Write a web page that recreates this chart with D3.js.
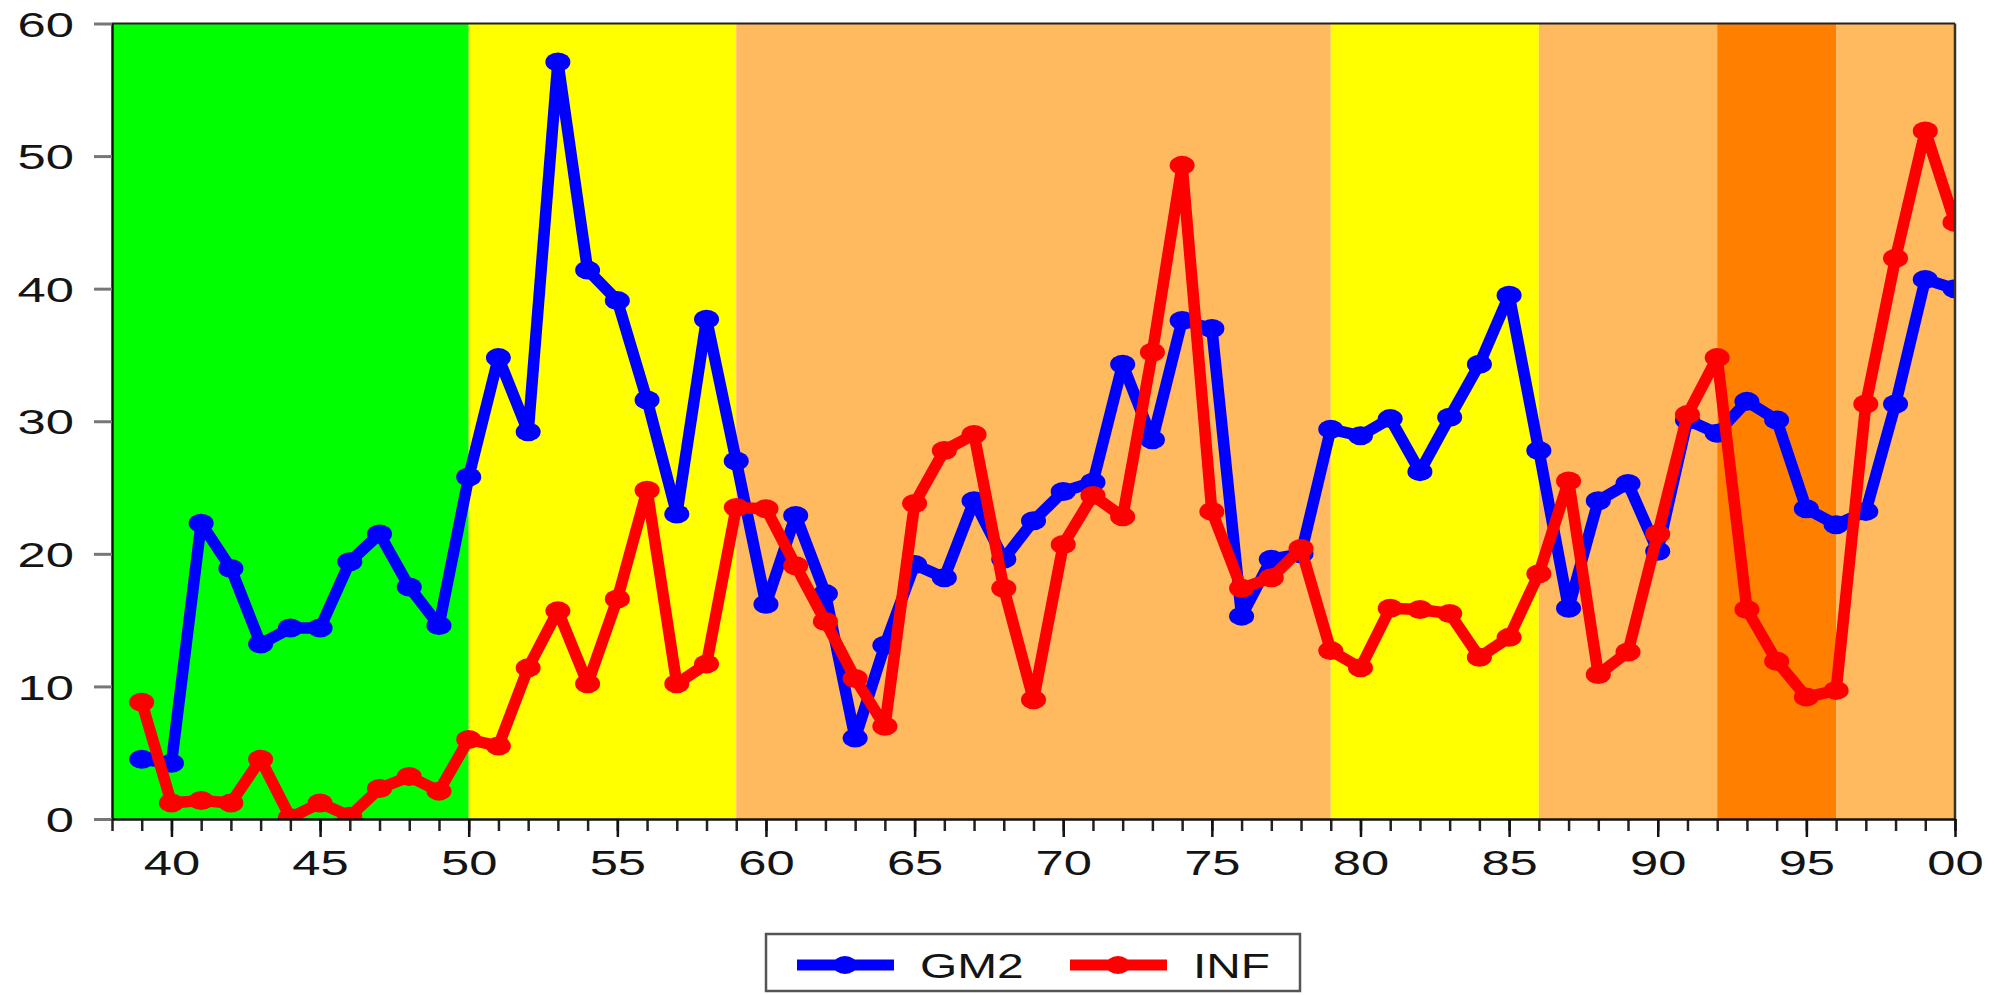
<!DOCTYPE html>
<html>
<head>
<meta charset="utf-8">
<script src="https://cdn.jsdelivr.net/npm/d3@7/dist/d3.min.js"></script>
<style>
html,body{margin:0;padding:0;background:#fff;}
svg{display:block;}
text{font-family:"Liberation Sans",Arial,sans-serif;fill:#141414;}
</style>
</head>
<body>
<script>
const years = d3.range(1939, 2001);
const gm2 = [4.5,4.2,22.3,18.9,13.2,14.4,14.4,19.4,21.5,17.5,14.6,
  25.8,34.8,29.2,57.1,41.4,39.1,31.6,23.0,37.7,27.0,
  16.2,22.9,17.0,6.1,13.1,19.2,18.2,24.0,19.6,22.5,
  24.7,25.4,34.3,28.6,37.6,37.0,15.3,19.6,20.0,29.4,
  28.9,30.2,26.2,30.3,34.3,39.5,27.8,15.9,24.0,25.3,
  20.2,30.1,29.1,31.5,30.1,23.4,22.2,23.2,31.3,40.7,
  40.0];
const inf = [8.8,1.2,1.4,1.2,4.5,0.1,1.2,0.2,2.3,3.2,2.1,
  6.0,5.5,11.4,15.7,10.2,16.6,24.8,10.2,11.7,23.5,
  23.4,19.1,14.9,10.6,7.0,23.8,27.8,29.0,17.4,9.0,
  20.7,24.4,22.8,35.2,49.3,23.2,17.4,18.2,20.4,12.7,
  11.4,15.9,15.8,15.5,12.2,13.7,18.5,25.5,10.9,12.6,
  21.5,30.5,34.8,15.8,11.9,9.2,9.7,31.3,42.3,51.9,
  45.0];
const seriesNames = ["GM2", "INF"];
const seriesColors = ["#0000ff", "#ff0000"];
const bandStart = [1938, 1950, 1959, 1979, 1986, 1992, 1996];
const bandEnd   = [1950, 1959, 1979, 1986, 1992, 1996, 2000];
const bandColor = ["#00ff00", "#ffff00", "#ffb95e", "#ffff00", "#ffb95e", "#ff8000", "#ffb95e"];
const yTicks = [0, 10, 20, 30, 40, 50, 60];
const xMajor = d3.range(1940, 2001, 5);

const W = 1998, H = 995;
const L = 112, R = 1955, T = 23.5, B = 819;
const SX = 1.45; // horizontal text stretch

const svg = d3.select("body").append("svg").attr("width", W).attr("height", H);
const x = d3.scaleLinear().domain([1938, 2000]).range([L, R]);
const y = d3.scaleLinear().domain([0, 60]).range([B, T]);

// bands
svg.append("g").selectAll("rect").data(bandStart).join("rect")
  .attr("x", (d) => x(d))
  .attr("y", T)
  .attr("width", (d, i) => x(bandEnd[i]) - x(d))
  .attr("height", B - T)
  .attr("fill", (d, i) => bandColor[i]);

svg.append("defs").append("clipPath").attr("id", "clip")
  .append("rect").attr("x", L).attr("y", T).attr("width", R - L).attr("height", B - T);

// series
const plot = svg.append("g").attr("clip-path", "url(#clip)");
[gm2, inf].forEach((vals, si) => {
  const pts = years.map((yr, i) => [yr, vals[i]]);
  plot.append("path")
    .attr("d", d3.line().x(d => x(d[0])).y(d => y(d[1]))(pts))
    .attr("fill", "none")
    .attr("stroke", seriesColors[si])
    .attr("stroke-width", 11.5)
    .attr("stroke-linejoin", "round");
  plot.append("g").selectAll("ellipse").data(pts).join("ellipse")
    .attr("cx", d => x(d[0])).attr("cy", d => y(d[1]))
    .attr("rx", 12.5).attr("ry", 9.5)
    .attr("fill", seriesColors[si]);
});

// frame top and right
svg.append("line").attr("x1", L).attr("x2", R).attr("y1", T).attr("y2", T)
  .attr("stroke", "#222").attr("stroke-width", 2);
svg.append("line").attr("x1", R).attr("x2", R).attr("y1", T).attr("y2", B)
  .attr("stroke", "#3a3020").attr("stroke-width", 2.5);

// y axis
const yAx = svg.append("g").attr("transform", `translate(${L},0)`)
  .call(d3.axisLeft(y).tickValues(yTicks).tickSize(18).tickPadding(0).tickSizeOuter(0));
yAx.select(".domain").attr("stroke", "#111").attr("stroke-width", 2.5);
yAx.selectAll(".tick line").attr("stroke", "#777").attr("stroke-width", 3);
yAx.selectAll(".tick text")
  .attr("x", -38 / SX).attr("dy", "0.36em")
  .attr("transform", `scale(${SX},1)`)
  .style("font-size", "35px").style("fill", "#141414");

// x axis minor
const xMinorAx = svg.append("g").attr("transform", `translate(0,${B})`)
  .call(d3.axisBottom(x).tickValues(d3.range(1938, 2001)).tickSize(12).tickFormat("").tickSizeOuter(0));
xMinorAx.select(".domain").remove();
xMinorAx.selectAll(".tick line").attr("stroke", "#222").attr("stroke-width", 2.5);

const xAx = svg.append("g").attr("transform", `translate(0,${B})`)
  .call(d3.axisBottom(x).tickValues(xMajor).tickSize(18).tickSizeOuter(0)
    .tickFormat(d => String(d % 100).padStart(2, "0")));
xAx.select(".domain").attr("stroke", "#111").attr("stroke-width", 2.5);
xAx.selectAll(".tick line").attr("stroke", "#111").attr("stroke-width", 2.5);
xAx.selectAll(".tick text")
  .attr("y", 56).attr("dy", 0)
  .attr("transform", `scale(${SX},1)`)
  .style("font-size", "35px").style("fill", "#141414");

// legend
const lg = svg.append("g");
lg.append("rect").attr("x", 766).attr("y", 934).attr("width", 534).attr("height", 57)
  .attr("fill", "#fff").attr("stroke", "#555").attr("stroke-width", 2.5);
const legX = [797, 1070];
seriesNames.forEach((nm, i) => {
  lg.append("line").attr("x1", legX[i]).attr("x2", legX[i] + 97)
    .attr("y1", 965).attr("y2", 965)
    .attr("stroke", seriesColors[i]).attr("stroke-width", 11);
  lg.append("ellipse").attr("cx", legX[i] + 48).attr("cy", 965).attr("rx", 12).attr("ry", 9)
    .attr("fill", seriesColors[i]);
  lg.append("text")
    .attr("transform", `translate(${legX[i] + 123},978) scale(1.33,1)`)
    .style("font-size", "36px").text(nm);
});
</script>
</body>
</html>
